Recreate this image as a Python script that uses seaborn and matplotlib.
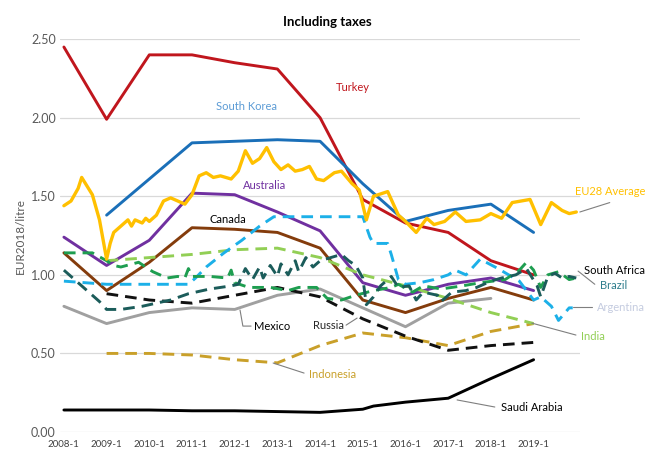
import matplotlib
matplotlib.use("Agg")
import matplotlib.pyplot as plt
import seaborn as sns

# ---- data (EUR2018 per litre, x in months since 2008-1) ----
years = list(range(2008, 2020))
turkey = [2.45, 1.99, 2.40, 2.40, 2.35, 2.31, 2.00, 1.48, 1.33, 1.27, 1.09, 1.00]
australia = [1.24, 1.06, 1.22, 1.52, 1.51, 1.40, 1.28, 0.95, 0.87, 0.94, 0.98, 0.90]
canada = [1.14, 0.90, 1.08, 1.30, 1.29, 1.27, 1.17, 0.84, 0.76, 0.85, 0.92, 0.84]

years_from_2009 = list(range(2009, 2020))
south_korea = [1.38, 1.61, 1.84, 1.85, 1.86, 1.85, 1.58, 1.34, 1.41, 1.45, 1.27]
russia = [0.88, 0.84, 0.82, 0.87, 0.92, 0.86, 0.72, 0.61, 0.52, 0.55, 0.57]
indonesia = [0.50, 0.50, 0.49, 0.46, 0.44, 0.55, 0.63, 0.60, 0.55, 0.64, 0.69]
india = [1.09, 1.11, 1.13, 1.16, 1.17, 1.11, 1.00, 0.93, 0.85, 0.76, 0.69]

years_mexico = list(range(2008, 2019))
mexico = [0.80, 0.69, 0.76, 0.79, 0.78, 0.87, 0.91, 0.79, 0.67, 0.82, 0.85]

saudi_month = [0, 12, 24, 36, 48, 60, 72, 84, 87, 96, 108, 120, 132]
saudi = [0.14, 0.14, 0.14, 0.135, 0.135, 0.13, 0.125, 0.145, 0.165, 0.19, 0.215, 0.34, 0.46]

eu_month = [0, 2, 4, 5, 8, 10, 12, 13, 14, 16, 18, 19, 20, 22, 23, 24, 26, 28,
            30, 32, 34, 36, 38, 40, 42, 44, 47, 49, 51, 53, 55, 57, 59, 61, 63, 65,
            67, 69, 71, 73, 76, 78, 81, 83, 85, 87, 91, 94, 96, 99, 102, 104, 107, 110,
            113, 117, 120, 123, 126, 131, 134, 137, 140, 142, 144]
eu28 = [1.44, 1.47, 1.55, 1.62, 1.51, 1.35, 1.10, 1.20, 1.27, 1.31, 1.35, 1.31,
        1.35, 1.33, 1.36, 1.34, 1.38, 1.47, 1.49, 1.47, 1.45, 1.51, 1.63, 1.65,
        1.62, 1.63, 1.61, 1.66, 1.79, 1.71, 1.74, 1.81, 1.72, 1.67, 1.70, 1.66,
        1.67, 1.69, 1.61, 1.60, 1.65, 1.66, 1.58, 1.54, 1.35, 1.50, 1.53, 1.38,
        1.34, 1.27, 1.36, 1.32, 1.34, 1.40, 1.34, 1.35, 1.39, 1.36, 1.46, 1.48,
        1.32, 1.46, 1.41, 1.39, 1.40]

brazil_month = [0, 3, 7, 10, 12, 16, 22, 26, 30, 35, 41, 47, 49, 51, 53, 55, 56, 58,
                60, 61, 63, 65, 66, 68, 70, 72, 75, 78, 80, 82, 84, 85, 87, 89, 92, 94,
                97, 99, 101, 105, 106, 109, 113, 116, 120, 123, 127, 130, 133, 134, 136,
                138, 140, 142, 144]
brazil = [1.03, 0.97, 0.89, 0.83, 0.78, 0.78, 0.80, 0.82, 0.84, 0.88, 0.91, 0.93,
          0.94, 1.04, 0.97, 1.05, 0.98, 1.06, 0.99, 1.07, 1.00, 1.09, 1.02, 1.11,
          1.05, 1.09, 1.11, 1.13, 1.09, 1.06, 0.98, 0.81, 0.86, 0.93, 0.99, 0.92,
          0.93, 0.84, 0.89, 0.87, 0.83, 0.89, 0.90, 0.92, 0.96, 0.98, 1.00, 1.04,
          0.93, 0.86, 0.99, 1.01, 0.98, 0.99, 0.98]

safrica_month = [0, 8, 12, 14, 16, 21, 25, 29, 32, 34, 35, 36, 41, 46, 47, 48, 52, 58,
                 63, 66, 71, 74, 78, 82, 87, 92, 94, 98, 101, 106, 112, 117, 124, 128,
                 130, 132, 134, 136, 139, 142, 144]
safrica = [1.14, 1.14, 1.09, 1.06, 1.05, 1.08, 1.02, 0.98, 0.99, 0.98, 1.04, 0.99,
           0.99, 0.98, 1.03, 0.95, 0.92, 0.92, 0.90, 0.92, 0.92, 0.85, 0.84, 0.87,
           0.90, 0.92, 0.94, 0.89, 0.93, 0.91, 0.93, 0.95, 0.97, 1.03, 1.08, 1.03,
           0.92, 1.00, 1.02, 0.97, 0.98]

argentina_month = [0, 12, 24, 35, 37, 40, 45, 50, 55, 59, 84, 86, 87, 91, 92, 94, 96,
                   100, 104, 108, 110, 113, 117, 122, 128, 132, 134, 137, 139, 142, 143]
argentina = [0.96, 0.94, 0.94, 0.94, 0.98, 1.05, 1.14, 1.22, 1.31, 1.37, 1.37, 1.24,
             1.20, 1.20, 1.13, 0.97, 0.94, 0.95, 0.97, 1.00, 1.03, 1.00, 1.10, 1.04,
             0.96, 0.84, 0.86, 0.80, 0.71, 0.79, 0.79]

tick_labels = [f"{y}-1" for y in range(2008, 2020)]


def to_month(yrs):
    return [12 * (y - 2008) for y in yrs]


sns.set_theme(style="white")
plt.rcParams["font.family"] = ["Lato", "DejaVu Sans"]

fig = plt.figure(figsize=(6.45, 4.5), dpi=100)
ax = fig.add_axes([0.093, 0.04, 0.806, 0.873])

dash = (0, (4, 2.4))
LW = 2.1

def draw(x, y, color, ls="-", lw=LW, z=2):
    sns.lineplot(x=x, y=y, ax=ax, color=color, linewidth=lw, linestyle=ls,
                 estimator=None, sort=False, zorder=z)

draw(to_month(years), turkey, "#C0161D")
draw(to_month(years_from_2009), south_korea, "#1A6FB8")
draw(to_month(years), australia, "#7030A0")
draw(to_month(years), canada, "#843C0C")
draw(to_month(years_mexico), mexico, "#A0A0A0")
draw(saudi_month, saudi, "#000000")
draw(to_month(years_from_2009), indonesia, "#C9A02A", dash)
draw(to_month(years_from_2009), india, "#92CF55", dash)
draw(to_month(years_from_2009), russia, "#111111", dash)
draw(argentina_month, argentina, "#1CB0E8", dash)
draw(safrica_month, safrica, "#1E9E50", dash)
draw(brazil_month, brazil, "#1B5C5A", dash)
draw(eu_month, eu28, "#FFC000", "-", 2.4, 3)

# axes styling
ax.set_xlim(-1.1, 145)
ax.set_ylim(0, 2.5)
ax.set_yticks([0, 0.5, 1.0, 1.5, 2.0, 2.5])
ax.set_yticklabels([f"{v:.2f}" for v in [0, 0.5, 1.0, 1.5, 2.0, 2.5]],
                   fontsize=9, color="#595959")
ax.set_xticks(to_month(years))
ax.set_xticklabels(tick_labels, fontsize=7, color="#404040")
ax.tick_params(axis="both", length=0, pad=3)
ax.tick_params(axis="x", pad=6)
ax.grid(axis="y", color="#D9D9D9", linewidth=0.9)
ax.set_axisbelow(True)
for s in ax.spines.values():
    s.set_visible(False)
ax.set_xlabel("")
ax.set_ylabel("EUR2018/litre", fontsize=8.5, color="#595959", labelpad=4)

fig.text(0.507, 0.951, "Including taxes", ha="center", va="center",
         fontsize=9.5, fontweight="bold", color="#000000")

# series labels
fs = 8
ax.text(81.2, 2.19, "Turkey", color="#C0161D", fontsize=fs, ha="center", va="center")
ax.text(51.2, 2.07, "South Korea", color="#5B9BD5", fontsize=fs, ha="center", va="center")
ax.text(56.5, 1.57, "Australia", color="#7030A0", fontsize=fs, ha="center", va="center")
ax.text(46.1, 1.355, "Canada", color="#000000", fontsize=fs, ha="center", va="center")
ax.text(143.6, 1.53, "EU28 Average", color="#FFC000", fontsize=fs, ha="left",
        va="center", clip_on=False)
ax.text(53.3, 0.674, "Mexico", color="#000000", fontsize=fs, ha="left", va="center")
ax.text(78.6, 0.68, "Russia", color="#262626", fontsize=fs, ha="right", va="center")
ax.text(68.8, 0.369, "Indonesia", color="#C9A02A", fontsize=fs, ha="left", va="center")
ax.text(122.7, 0.159, "Saudi Arabia", color="#000000", fontsize=fs, ha="left", va="center")
ax.text(145.2, 0.61, "India", color="#92CF55", fontsize=fs, ha="left", va="center",
        clip_on=False)
ax.text(149.9, 0.795, "Argentina", color="#C5CCE0", fontsize=fs, ha="left",
        va="center", clip_on=False)
ax.text(146.2, 1.03, "South Africa", color="#000000", fontsize=fs, ha="left",
        va="center", clip_on=False)
ax.text(150.8, 0.935, "Brazil", color="#2E7D8C", fontsize=fs, ha="left",
        va="center", clip_on=False)

# leader lines
lead = dict(color="#7F7F7F", linewidth=0.8, clip_on=False, zorder=4)
ax.plot([145, 153.4], [1.40, 1.46], **lead)
ax.plot([49.5, 50.3, 52.6], [0.776, 0.674, 0.674], **lead)
ax.plot([79.3, 82.4], [0.68, 0.725], **lead)
ax.plot([58.8, 67.5], [0.439, 0.375], **lead)
ax.plot([110.5, 121.1], [0.204, 0.159], **lead)
ax.plot([131.5, 143.9], [0.693, 0.617], **lead)
ax.plot([143.1, 148.4], [0.795, 0.795], **lead)
ax.plot([144.5, 149.2], [1.024, 0.94], **lead)

fig.savefig("out.png", dpi=100)
